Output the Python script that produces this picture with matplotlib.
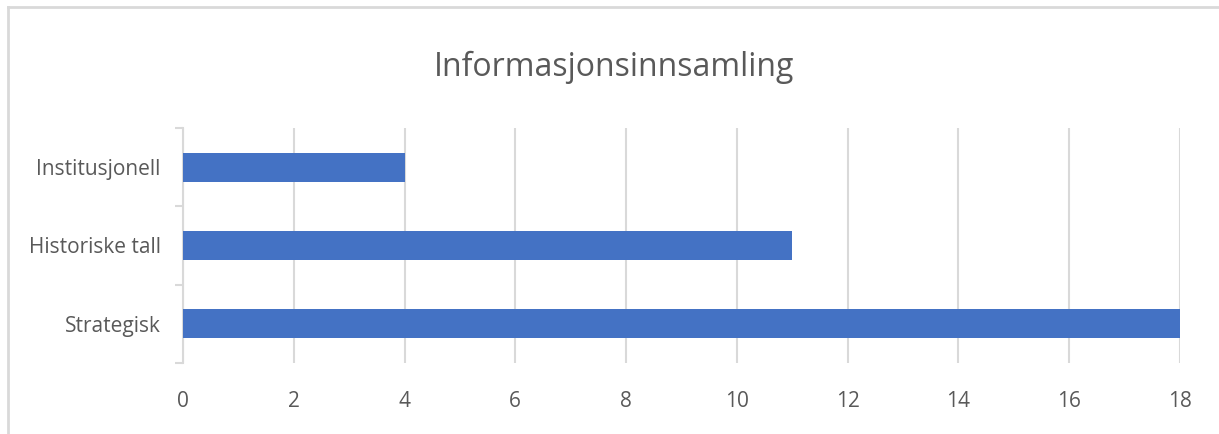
import matplotlib
matplotlib.use("Agg")
import matplotlib.pyplot as plt
from matplotlib import font_manager
from matplotlib.lines import Line2D

categories = ["Strategisk", "Historiske tall", "Institusjonell"]
values = [18, 11, 4]
x_ticks = [0, 2, 4, 6, 8, 10, 12, 14, 16, 18]
title = "Informasjonsinnsamling"

names = {f.name for f in font_manager.fontManager.ttflist}
family = "Liberation Sans Narrow" if "Liberation Sans Narrow" in names else "Open Sans"
plt.rcParams["font.family"] = [family, "DejaVu Sans"]

bar_color = "#4472C4"
grid_color = "#D9D9D9"
text_color = "#595959"

fig = plt.figure(figsize=(12.19, 4.34), dpi=100)
ax = fig.add_axes([0.1501, 0.1636, 0.8179, 0.5415])

pos = list(range(len(categories)))
ax.barh(pos, values, height=0.37, color=bar_color, zorder=3)

ax.set_xlim(0, 18)
ax.set_ylim(-0.5, len(categories) - 0.5)
ax.set_xticks(x_ticks)
ax.set_xticklabels([str(t) for t in x_ticks], fontsize=15, color=text_color)
ax.tick_params(axis="x", length=0, pad=20)

ax.set_yticks(pos)
ax.set_yticklabels(categories, fontsize=15, color=text_color)
ax.tick_params(axis="y", which="major", length=0, pad=16)
ax.set_yticks([p - 0.5 for p in range(len(categories) + 1)], minor=True)
ax.tick_params(axis="y", which="minor", length=6, width=1.5, color=grid_color)

ax.grid(axis="x", color=grid_color, linewidth=1.5, zorder=0)
for s in ["top", "right", "bottom"]:
    ax.spines[s].set_visible(False)
ax.spines["left"].set_color(grid_color)
ax.spines["left"].set_linewidth(1.5)

fig.text(0.504, 0.845, title, ha="center", va="center", fontsize=23, color=text_color)

# outer chart border (top and left only visible)
fig.add_artist(Line2D([8 / 1219, 1], [1 - 7 / 434, 1 - 7 / 434], color=grid_color, linewidth=2, transform=fig.transFigure))
fig.add_artist(Line2D([8 / 1219, 8 / 1219], [0, 1 - 7 / 434], color=grid_color, linewidth=2, transform=fig.transFigure))

plt.savefig("out.png", dpi=100)
